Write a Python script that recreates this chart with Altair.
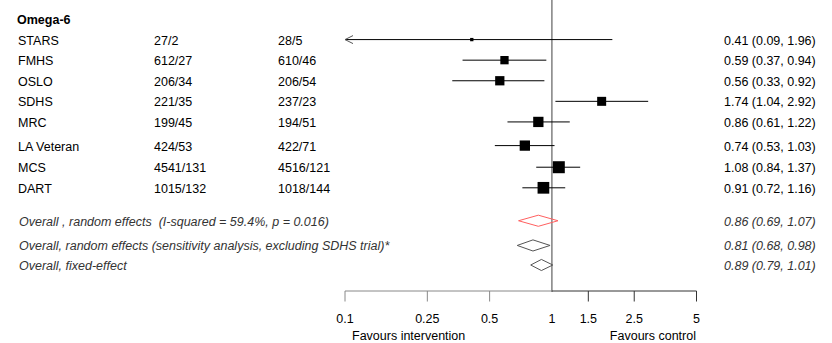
import altair as alt
import pandas as pd

# ---------------- data ----------------
studies = ["STARS", "FMHS", "OSLO", "SDHS", "MRC", "LA Veteran", "MCS", "DART"]
intervention = ["27/2", "612/27", "206/34", "221/35", "199/45", "424/53", "4541/131", "1015/132"]
control = ["28/5", "610/46", "206/54", "237/23", "194/51", "422/71", "4516/121", "1018/144"]
rr = [0.41, 0.59, 0.56, 1.74, 0.86, 0.74, 1.08, 0.91]
rr_lo = [0.09, 0.37, 0.33, 1.04, 0.61, 0.53, 0.84, 0.72]
rr_hi = [1.96, 0.94, 0.92, 2.92, 1.22, 1.03, 1.37, 1.16]
weights = [11, 69, 86, 81, 106, 106, 144, 137]  # relative box area (study weight)

overall_labels = [
    "Overall , random effects \u00a0(I-squared = 59.4%, p = 0.016)",
    "Overall, random effects (sensitivity analysis, excluding SDHS trial)*",
    "Overall, fixed-effect",
]
overall_rr = [0.86, 0.81, 0.89]
overall_lo = [0.69, 0.68, 0.79]
overall_hi = [1.07, 0.98, 1.01]

tick_values = [0.1, 0.25, 0.5, 1, 1.5, 2.5, 5]
tick_labels = ["0.1", "0.25", "0.5", "1", "1.5", "2.5", "5"]

group_title = "Omega-6"
favours_left = "Favours intervention"
favours_right = "Favours control"

# ---------------- layout (not data) ----------------
study_rows = [1, 2, 3, 4, 5, 6.15, 7.2, 8.2]
overall_rows = [9.8, 11, 11.95]
overall_colors = ["#ff6060", "#555555", "#555555"]
diamond_half = 0.27
FONT = "Liberation Sans"
FS = 12.5
DY = 1

x_scale = alt.Scale(type="log", domain=[0.1, 5], range=[345, 696.5], clamp=True)
y_scale = alt.Scale(domain=[0, 11.95], range=[19, 265])

fmt = lambda e, l, h: f"{e:.2f} ({l:.2f}, {h:.2f})"

sdf = pd.DataFrame({
    "study": studies, "ni": intervention, "nc": control,
    "rr": rr, "lo": rr_lo, "hi": rr_hi, "w": weights, "row": study_rows,
})
sdf["ci"] = [fmt(e, l, h) for e, l, h in zip(rr, rr_lo, rr_hi)]

odf = pd.DataFrame({
    "label": overall_labels, "rr": overall_rr, "lo": overall_lo, "hi": overall_hi,
    "row": overall_rows, "id": ["a", "b", "c"],
})
odf["ci"] = [fmt(e, l, h) for e, l, h in zip(overall_rr, overall_lo, overall_hi)]

verts = []
for _, r in odf.iterrows():
    pts = [(r.lo, r.row), (r.rr, r.row - diamond_half), (r.hi, r.row),
           (r.rr, r.row + diamond_half), (r.lo, r.row)]
    for k, (xx, yy) in enumerate(pts):
        verts.append({"id": r.id, "k": k, "x": xx, "y": yy})
vdf = pd.DataFrame(verts)

tdf = pd.DataFrame({"value": tick_values, "label": tick_labels})
hdf = pd.DataFrame({"t": [group_title], "row": [0]})

Y = lambda f: alt.Y(f, type="quantitative", scale=y_scale, axis=None)
X = lambda f: alt.X(f, type="quantitative", scale=x_scale, axis=None)

base_s = alt.Chart(sdf)
base_o = alt.Chart(odf)

text_kw = dict(align="left", baseline="middle", font=FONT, fontSize=FS, color="#000000", dy=DY)
ital_kw = dict(align="left", baseline="middle", font=FONT, fontSize=FS, fontStyle="italic",
               color="#333333", dy=DY)

header = alt.Chart(hdf).mark_text(fontWeight="bold", **text_kw).encode(
    x=alt.value(17), y=Y("row"), text="t:N")
col1 = base_s.mark_text(**text_kw).encode(x=alt.value(18), y=Y("row"), text="study:N")
col2 = base_s.mark_text(**text_kw).encode(x=alt.value(154), y=Y("row"), text="ni:N")
col3 = base_s.mark_text(**text_kw).encode(x=alt.value(278), y=Y("row"), text="nc:N")
col4 = base_s.mark_text(**text_kw).encode(x=alt.value(724), y=Y("row"), text="ci:N")

ocol1 = base_o.mark_text(**ital_kw).encode(x=alt.value(19), y=Y("row"), text="label:N")
ocol4 = base_o.mark_text(**ital_kw).encode(x=alt.value(724), y=Y("row"), text="ci:N")

ci = base_s.mark_rule(color="#000000", strokeWidth=1).encode(x=X("lo"), x2="hi", y=Y("row"))
arrow = base_s.transform_filter("datum.lo < 0.1").mark_point(
    shape="M2,-1L0,0L2,1", filled=False, color="#555555", strokeWidth=1, size=64, opacity=1
).encode(x=X("lo"), y=Y("row"))
boxes = base_s.mark_square(color="#000000", opacity=1).encode(
    x=X("rr"), y=Y("row"),
    size=alt.Size("w:Q", scale=alt.Scale(type="linear", domain=[0, 150], range=[0, 150]), legend=None),
)

diamonds = alt.Chart(vdf).mark_line(strokeWidth=1).encode(
    x=X("x"), y=Y("y"), detail="id:N", order="k:Q",
    color=alt.Color("id:N", scale=alt.Scale(domain=["a", "b", "c"], range=overall_colors), legend=None),
)

null_line = alt.Chart(tdf).transform_filter("datum.value == 1").mark_rule(
    color="#808080", strokeWidth=1.5).encode(x=X("value"), y=alt.value(0), y2=alt.value(292))

axis_left = alt.Chart(tdf).transform_aggregate(mn="min(value)").transform_calculate(one="1").mark_rule(
    color="#888888", strokeWidth=1).encode(x=X("mn"), x2="one:Q", y=alt.value(291))
axis_right = alt.Chart(tdf).transform_aggregate(mx="max(value)").transform_calculate(one="1").mark_rule(
    color="#333333", strokeWidth=1).encode(x=X("one"), x2="mx:Q", y=alt.value(291))

ticks = alt.Chart(tdf).transform_filter("datum.value != 1").mark_rule(strokeWidth=1).encode(
    x=X("value"), y=alt.value(291), y2=alt.value(301.5),
    color=alt.when(alt.datum.value < 1).then(alt.value("#888888")).otherwise(alt.value("#333333")),
)
tick_text = alt.Chart(tdf).mark_text(align="center", baseline="middle", font=FONT, fontSize=FS,
                                     color="#000000").encode(x=X("value"), y=alt.value(319), text="label:N")

fav_l = alt.Chart(pd.DataFrame({"t": [favours_left]})).mark_text(
    align="left", baseline="middle", font=FONT, fontSize=FS, color="#000000").encode(
    x=alt.value(352), y=alt.value(336), text="t:N")
fav_r = alt.Chart(pd.DataFrame({"t": [favours_right]})).mark_text(
    align="right", baseline="middle", font=FONT, fontSize=FS, color="#000000").encode(
    x=alt.value(696), y=alt.value(336), text="t:N")

chart = alt.layer(
    null_line, axis_left, axis_right, ticks, tick_text, fav_l, fav_r,
    ci, arrow, boxes, diamonds,
    header, col1, col2, col3, col4, ocol1, ocol4,
).properties(
    width=832, height=343, autosize=alt.AutoSizeParams(type="none"), padding=0,
    background="#ffffff",
).configure_view(stroke=None)

chart.save("out.html", embed_options={"renderer": "svg", "actions": False})
